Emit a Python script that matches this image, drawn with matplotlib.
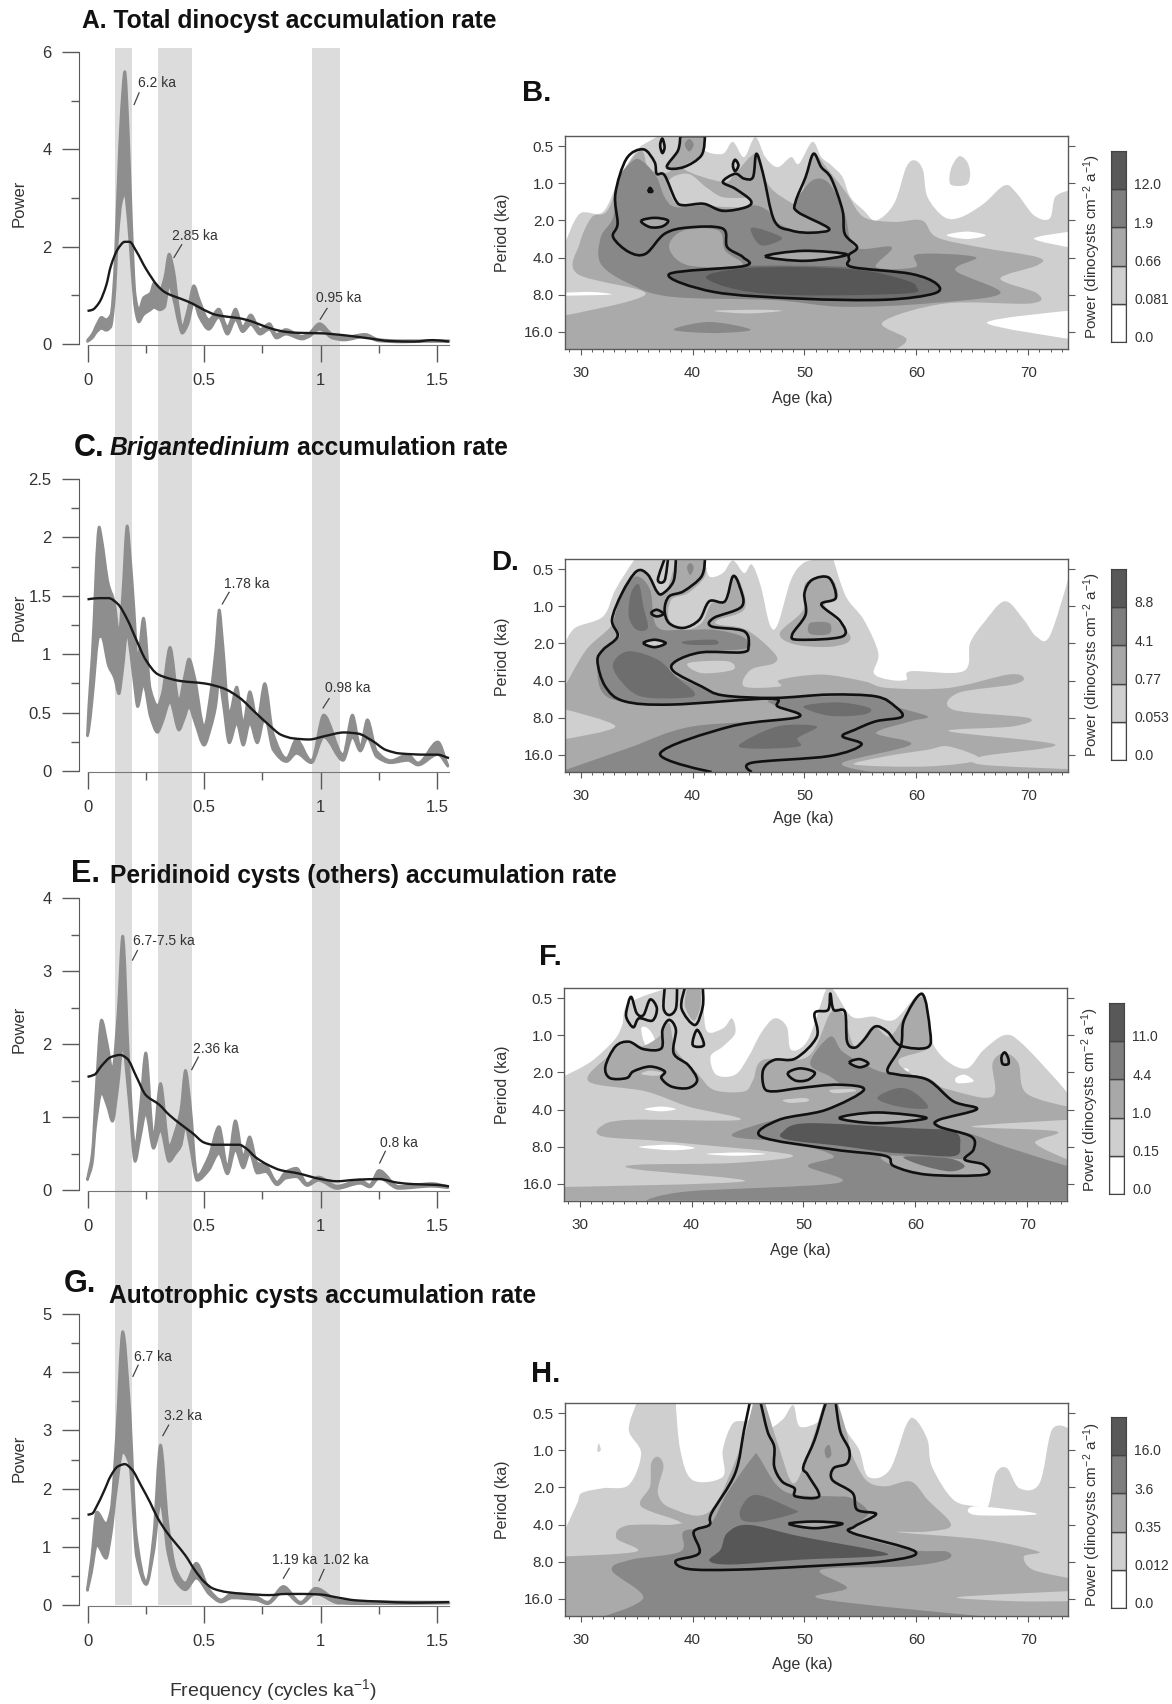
import matplotlib
matplotlib.use('Agg')
import matplotlib.pyplot as plt
from matplotlib.path import Path
from matplotlib.patches import PathPatch

plt.rcParams['font.family'] = ['Liberation Sans', 'DejaVu Sans']
plt.rcParams['mathtext.default'] = 'regular'
plt.rcParams['mathtext.fontset'] = 'custom'
plt.rcParams['mathtext.rm'] = 'Liberation Sans'

W, H = 1172, 1704
AXC = '#5a5a5a'
TXT = '#333333'

# grey frequency bands (cycles/ka)
bands = [(0.116, 0.189), (0.304, 0.446), (0.964, 1.084)]

# spectra: frequency, upper edge, lower edge of the grey ribbon, smoothed black line
A_f = [0, .02, .04, .06, .08, .1, .115, .13, .145, .16, .175, .19, .205, .22, .24, .27, .285, .31, .33, .35, .37, .39, .406, .43, .456, .48, .52, .563, .6, .635, .665, .7, .74, .78, .81, .85, .92, .95, .995, 1.05, 1.1, 1.19, 1.25, 1.35, 1.45, 1.55]
A_up = [.08, .2, .4, .55, .5, .6, 1.4, 3.2, 4.8, 5.6, 4.4, 2.4, 1.0, .7, .95, 1.05, 1.25, 1.1, 1.35, 1.85, 1.5, .75, .35, .7, 1.2, .9, .5, .72, .35, .72, .35, .6, .3, .42, .2, .3, .16, .22, .42, .2, .14, .2, .09, .07, .07, .07]
A_lo = [.05, .12, .25, .32, .28, .35, .9, 2.2, 2.9, 3.1, 2.5, 1.5, .7, .45, .6, .7, .75, .7, .75, 1.2, .9, .45, .22, .4, .85, .55, .3, .55, .2, .5, .25, .4, .2, .3, .12, .2, .1, .15, .3, .12, .08, .15, .06, .04, .05, .05]
A_line_f = [0, .02, .05, .08, .1, .13, .16, .18, .21, .25, .3, .33, .36, .4, .45, .5, .55, .6, .65, .7, .75, .8, .85, .9, 1.0, 1.1, 1.2, 1.3, 1.4, 1.48, 1.55]
A_line = [.68, .7, .85, 1.2, 1.6, 1.95, 2.1, 2.1, 1.9, 1.55, 1.2, 1.07, 1.0, .93, .83, .7, .6, .56, .53, .47, .38, .3, .25, .23, .22, .18, .12, .06, .05, .08, .05]

C_f = [0, .005, .02, .05, .06, .09, .115, .135, .15, .17, .185, .2, .215, .24, .27, .3, .32, .354, .392, .415, .435, .46, .5, .53, .55, .565, .58, .608, .64, .668, .696, .728, .76, .796, .853, .896, .96, 1.013, 1.096, 1.136, 1.17, 1.2, 1.24, 1.3, 1.374, 1.417, 1.502, 1.545]
C_up = [.34, .55, 1.0, 2.09, 2.0, 1.6, 1.45, 1.18, 1.5, 2.1, 1.8, 1.38, .95, 1.31, .7, .56, .66, 1.06, .6, .8, .96, .8, .38, .7, 1.05, 1.38, 1.1, .49, .72, .41, .68, .44, .75, .32, .11, .27, .09, .48, .14, .48, .21, .44, .17, .09, .14, .07, .25, .05]
C_lo = [.3, .34, .6, 1.15, 1.15, .9, .8, .66, .85, 1.18, 1.0, .75, .55, .74, .46, .33, .41, .59, .35, .45, .55, .42, .22, .38, .55, .78, .6, .24, .41, .22, .41, .24, .46, .18, .08, .15, .07, .29, .09, .29, .17, .28, .12, .07, .09, .05, .14, .04]
C_line_f = [0, .05, .09, .13, .17, .21, .25, .3, .354, .4, .5, .58, .65, .72, .78, .83, .88, .95, 1.02, 1.1, 1.16, 1.22, 1.28, 1.34, 1.45, 1.5, 1.55]
C_line = [1.47, 1.48, 1.48, 1.43, 1.3, 1.12, .95, .83, .79, .77, .75, .71, .63, .5, .39, .31, .28, .27, .3, .33, .32, .26, .18, .15, .14, .14, .11]

E_f = [0, .02, .036, .06, .085, .107, .13, .151, .178, .204, .225, .25, .283, .313, .35, .378, .4, .42, .44, .47, .52, .564, .6, .634, .668, .695, .728, .764, .813, .85, .896, .942, .99, 1.07, 1.17, 1.21, 1.25, 1.334, 1.477, 1.545]
E_up = [.16, .5, 1.35, 2.33, 2.0, 1.65, 2.4, 3.48, 1.7, .6, 1.1, 1.88, .73, 1.46, .6, .82, 1.1, 1.64, 1.2, .2, .46, .87, .32, .95, .46, .73, .37, .34, .11, .25, .3, .09, .18, .055, .14, .07, .27, .05, .09, .05]
E_lo = [.14, .35, .9, 1.33, 1.15, .94, 1.4, 1.97, 1.23, .39, .7, 1.05, .57, .82, .39, .5, .6, .87, .6, .13, .27, .5, .22, .55, .3, .5, .23, .25, .07, .16, .18, .06, .13, .02, .09, .04, .16, .02, .05, .03]
E_line_f = [0, .03, .06, .1, .14, .17, .21, .25, .307, .35, .4, .45, .5, .54, .65, .68, .72, .77, .83, .9, 1.0, 1.07, 1.15, 1.25, 1.33, 1.4, 1.5, 1.55]
E_line = [1.55, 1.58, 1.7, 1.82, 1.85, 1.8, 1.55, 1.3, 1.17, 1.03, .9, .78, .65, .62, .62, .57, .45, .35, .27, .23, .15, .12, .14, .15, .1, .08, .07, .05]

G_f = [0, .017, .04, .08, .1, .124, .151, .18, .21, .252, .283, .313, .345, .38, .42, .466, .523, .573, .62, .72, .772, .84, .914, .978, 1.078, 1.19, 1.55]
G_up = [.3, .8, 1.6, 1.4, 1.63, 2.9, 4.7, 3.46, 1.18, .4, 1.18, 2.75, 1.4, .6, .38, .72, .26, .09, .2, .15, .05, .32, .05, .29, .08, .06, .05]
G_lo = [.25, .55, 1.03, .8, 1.18, 1.98, 2.63, 2.43, .83, .35, .89, 1.75, .89, .4, .26, .46, .18, .05, .12, .09, .02, .23, .02, .19, .03, .02, .03]
G_line_f = [0, .02, .04, .07, .1, .13, .16, .19, .23, .27, .3, .34, .38, .42, .46, .5, .54, .6, .68, .78, .85, .92, 1.0, 1.07, 1.15, 1.25, 1.4, 1.55]
G_line = [1.55, 1.57, 1.7, 1.95, 2.22, 2.38, 2.42, 2.33, 2.05, 1.75, 1.5, 1.25, 1.05, .85, .6, .4, .28, .22, .19, .17, .19, .19, .18, .13, .08, .06, .04, .05]

# wavelet fills, (age ka, octaves above 0.5 ka period)
B_light = [(28.6,2.63),(29.9,1.82),(32,1.77),(33.5,.83),(35,.11),(36,-.12),(37,-.28),(41.1,-.28),(41.1,.11),(42.7,.2),(43.6,-.12),(44.6,.29),(45.6,-.25),(46.5,.29),(47.6,.56),(48.8,.29),(49.5,.47),(50.7,-.12),(51.5,.29),(52.4,.51),(53.4,.83),(54.1,1.37),(55.3,1.73),(56.4,2),(58,1.55),(59.1,.56),(59.9,.38),(60.6,.65),(61,1.37),(62.5,1.91),(64,1.91),(66,1.55),(67.9,1.05),(69,1.28),(70.5,1.86),(71.9,1.95),(72.4,1.37),(73.55,1.2),(73.55,2.31),(70.5,2.49),(73.55,2.72),(73.55,4.44),(66.3,4.76),(73.55,5.19),(73.55,5.47),(28.6,5.47)]
B_light2 = [(63,1.0),(63.1,.6),(63.8,.27),(64.5,.4),(64.8,.7),(64.6,1.0),(63.8,1.07)]
B_white = [[(28.6,3.95),(31,3.93),(32.7,4.0),(28.6,4.03)], [(62.7,2.4),(64.5,2.3),(66.2,2.4),(64.5,2.5)]]
B_mid = [(28.6,4.56),(35.8,3.99),(29.7,3.44),(29.9,2.63),(31,1.91),(32.4,1.73),(33.9,.65),(35.4,.11),(36,.56),(37.1,.74),(38.1,.65),(37.7,.56),(38.7,.11),(39.1,-.28),(41.1,-.28),(40.8,.24),(39.2,.6),(42.7,.96),(43.8,.74),(45.7,.2),(46.7,1.0),(48,1.37),(49.6,1.55),(50.1,.83),(50.8,.2),(52.4,.74),(53.8,1.28),(55.3,1.91),(58,2.04),(60.5,2),(61.8,2.45),(65.6,2.72),(70.8,2.99),(70.8,3.21),(67.5,3.57),(70.8,3.97),(70.2,4.24),(62.6,4.24),(57,4.74),(59.1,5.19),(58.2,5.47),(28.6,5.47)]
B_light3 = [[(37.9,.92),(39.6,.74),(41.2,1.1),(42.7,1.37),(45.2,1.41),(44.2,1.64),(39.2,1.55),(38.3,1.46)], [(41.9,4.44),(45.7,4.41),(48,4.44),(44.9,4.51)]]
B_dark = [(31.8,3.17),(31.8,2.45),(32.9,1.91),(33.3,.92),(34.7,.38),(35.6,.42),(36.8,.83),(37.5,1.37),(38.5,1.64),(41.2,1.59),(43.5,1.73),(45.4,1.59),(46.7,1.73),(47.7,2.09),(50.3,2.36),(52.3,2.25),(49.4,1.77),(49.2,1.5),(50.7,.92),(52.2,1.0),(53.6,1.82),(54.5,2.72),(57.8,2.72),(56.4,3.26),(59.9,3.26),(60.1,2.91),(65.3,2.99),(63.5,3.35),(67.5,3.97),(61,4.24),(53.4,4.33),(47.3,4.15),(38.1,4.06),(34.3,3.7)]
B_dark2 = [[(38.3,4.95),(41.5,4.74),(45.2,4.95),(41.9,5.04)], [(39.3,-.05),(39.7,-.2),(40.1,-.05),(39.7,.14)]]
B_mid2 = [[(37.9,2.72),(39.2,2.27),(42.3,2.27),(42.9,2.81),(44.4,3.21),(39.6,3.21)], [(54.9,2.4),(56.4,2.27),(58.2,2.4),(56.4,2.54)], [(46.5,2.97),(49.9,2.82),(53.8,2.92),(50.1,3.09)], [(35.4,2.01),(36.6,1.93),(37.8,2),(37.3,2.16),(36.2,2.18)]]
B_darker = [[(45.2,2.22),(46.5,2.27),(48,2.49),(46.1,2.67)], [(37.9,3.45),(44.6,3.23),(54.3,3.26),(59.5,3.44),(61.8,3.71),(61.6,3.97),(57.2,4.14),(49.6,4.11),(41.9,3.93)]]
B_darkest = [[(41.2,3.53),(44.2,3.3),(49.6,3.26),(55.3,3.35),(59.1,3.62),(60,3.8),(59.1,3.97),(49.6,4.02),(44.2,3.88)]]
B_loops = [[(32.9,2.45),(33.3,2.09),(33.1,1.28),(34.1,.33),(35.6,.08),(36.6,.42),(36.8,.74),(37.5,.78),(38.5,1.46),(39.2,1.59),(41,1.55),(42.7,1.74),(44.8,1.64),(45.2,1.46),(43.8,1.14),(42.7,.96),(43.8,.74),(44.6,.87),(45.4,.83),(45.7,.2),(46.3,.74),(47.3,2),(48.8,2.27),(50.7,2.33),(52.2,2.22),(49.4,1.77),(49.2,1.5),(50.1,.83),(50.8,.2),(51.5,.56),(52.4,.87),(53.4,1.73),(53.6,2.36),(54.7,2.72),(54,2.92),(54,3.05),(54.3,3.26),(59.5,3.44),(61.8,3.71),(61.6,3.97),(57.2,4.14),(49.6,4.11),(41.9,3.93),(37.9,3.45),(44.6,3.23),(44.5,2.99),(43.1,2.72),(42.7,2.22),(39.6,2.19),(37.5,2.36),(35.8,2.9),(34.3,2.85),(32.9,2.45)],
           [(46.5,2.97),(49.9,2.82),(53.8,2.92),(50.1,3.09),(46.5,2.97)],
           [(35.4,2.01),(36.6,1.93),(37.8,2),(37.3,2.16),(36.2,2.18),(35.4,2.01)],
           [(37.1,-.03),(37.3,-.21),(37.5,.02),(37.3,.18),(37.1,-.03)],
           [(37.7,.56),(38.7,.11),(38.9,-.28),(41.1,-.28),(40.8,.24),(39.2,.56),(37.7,.56)],
           [(43.6,.51),(43.8,.36),(44.1,.51),(43.8,.67),(43.6,.51)],
           [(36.05,1.22),(36.2,1.12),(36.4,1.22),(36.05,1.22)]]

D_light = [(28.6,2.0),(29.5,1.58),(32,1.27),(33.1,.55),(34.7,-.22),(35,-.28),(41.1,-.28),(41.5,.19),(42.7,.1),(43.6,-.24),(44.6,.1),(45.3,-.13),(46.1,.46),(46.9,1.49),(47.6,1.49),(48.8,.28),(49.9,-.17),(51.1,-.26),(52.6,-.26),(53.7,.73),(55.3,1.36),(56.6,2.26),(56.2,2.8),(57.6,2.98),(59.1,2.98),(59.5,2.75),(64.2,2.75),(64.8,1.99),(66,1.45),(67.9,.86),(69.6,1.36),(70.7,1.81),(71.9,1.81),(73.55,.28),(73.55,5.47),(28.6,5.47)]
D_mid = [(28.6,4.58),(33.1,4.24),(28.7,3.79),(28.6,3.16),(30.5,2.17),(32.9,1.45),(33.7,.55),(35.2,.01),(36.2,.19),(36.8,.64),(37.7,.55),(38.5,-.28),(41.1,-.28),(41.1,.19),(39.6,.64),(38.1,.82),(37.9,1.36),(39.2,1.63),(40.8,1.45),(41.7,.91),(43.1,.86),(43.6,.14),(44.4,.46),(44.6,1.09),(42.3,1.36),(42.3,1.49),(44.8,1.63),(47.3,2.26),(47.3,2.53),(45.2,2.71),(44.6,3.16),(47.8,3.16),(47.8,2.98),(51.5,2.84),(55.3,3.02),(57.4,3.2),(62.9,3.2),(68.2,2.84),(69.6,2.93),(68.6,3.11),(63.7,3.34),(63.3,3.79),(70,4.01),(68.6,4.24),(62.9,4.37),(72.4,4.73),(65.8,5.05),(65.8,5.27),(73.55,5.39),(73.55,5.47),(28.6,5.47)]
D_mid2 = [[(47.8,1.72),(49.9,1.09),(50.1,.37),(52.2,.19),(53,.73),(51.8,1),(54.1,1.81),(52.6,2.08),(49.2,2.03)]]
D_light3 = [[(39.6,2.53),(43.1,2.48),(43.6,2.71),(40.8,2.8)], [(54.5,5.27),(57.2,5.05),(61,4.87),(62.9,4.78),(65.6,5.13),(61,5.32)]]
D_dark = [(31.8,3.25),(31.5,2.48),(32,2.17),(33.5,1.81),(32.9,1.45),(33.9,.55),(35,.19),(36.2,.55),(36.8,1.54),(39.2,1.63),(41.9,1.63),(44.4,1.81),(45,2.12),(40.8,2.24),(38.5,2.48),(38.1,2.8),(40.8,3.2),(42.7,3.4),(45.7,3.47),(38.1,3.65),(33.5,3.56)]
D_dark2 = [[(28.6,5.42),(34.3,4.82),(40,4.24),(49.5,4.01),(46.9,3.52),(56.4,3.43),(58.1,3.7),(61,3.97),(59.5,4.1),(56.4,4.42),(59.5,4.73),(53.4,5.22),(56,5.47),(28.6,5.47)], [(50.5,1.45),(52.2,1.45),(52.2,1.74),(50.5,1.74)], [(39.5,-.05),(39.8,-.17),(40.1,-.05),(39.8,.15)]]
D_holes = [[(35.6,1.99),(36.6,1.9),(37.6,1.99),(36.6,2.1)]]
D_darker = [[(32.9,2.53),(34.3,2.21),(36.9,2.44),(38.5,2.89),(40.2,3.34),(39.2,3.47),(35.4,3.43),(33.5,2.98)], [(34.5,.64),(35.2,.41),(35.6,1),(36,1.58),(35,1.63),(34.3,1.27)], [(39.2,1.94),(41.9,1.9),(42.1,2.03),(39.6,2.03)], [(49.9,3.7),(53,3.59),(55.8,3.74),(55.3,3.92),(52.2,3.95)], [(44.2,4.73),(47.6,4.24),(51.1,4.24),(49.4,4.55),(49.5,4.78),(45.7,4.84)]]
D_loops = [[(38.5,-.28),(38.3,.32),(37.3,.66),(36.8,.59),(36,.14),(35,.05),(33.7,.64),(32.8,1.36),(33.3,1.81),(32,2.17),(31.5,2.48),(32.2,3.16),(33.9,3.56),(38.1,3.65),(46.9,3.49),(47.6,3.7),(49.5,3.98),(43.4,4.24),(37.1,4.97),(41.7,5.47)],
           [(45.3,5.47),(45.3,5.22),(52.2,5.04),(55.1,4.73),(53.4,4.51),(54.5,4.33),(56.4,4.1),(58.7,3.98),(58.1,3.7),(56.4,3.43),(52.2,3.38),(47.3,3.47),(42.7,3.4),(40.8,3.16),(38.3,2.75),(38.5,2.48),(40.8,2.24),(44.4,2.24),(45,2.08),(44.6,1.67),(41.7,1.54),(41.9,1.31),(44.4,1),(44.2,.46),(43.6,.19),(42.9,.86),(41.5,.86),(40.6,1.36),(39.2,1.58),(37.9,1.45),(37.5,1.09),(37.9,.73),(39.2,.59),(40.8,.19),(41.1,-.28)],
           [(37.5,-.28),(36.9,.28),(37.5,.3),(37.8,-.28)],
           [(35.6,1.99),(36.6,1.9),(37.6,1.99),(36.6,2.1),(35.6,1.99)],
           [(36.3,1.18),(36.8,1.09),(37.4,1.2),(36.8,1.27),(36.3,1.18)],
           [(48.9,1.76),(50.1,1.22),(50,.64),(50.7,.28),(52.2,.23),(52.8,.77),(51.5,.95),(53.2,1.4),(53.4,1.81),(49.5,1.9),(48.9,1.76)]]

F_light = [(28.65,2.09),(31,1.71),(33.1,1.12),(33.8,.72),(34.4,.13),(37.8,-.27),(41.1,-.27),(41.3,.85),(42.8,.81),(43.6,.54),(43.9,.94),(42.8,1.3),(41.7,1.57),(42.2,2.06),(43.9,2.06),(45.1,1.57),(46.2,.94),(47.4,.54),(48.5,.76),(48.9,1.39),(50.4,1.12),(52,-.22),(52.7,-.22),(54.3,.49),(56.2,.49),(58.1,.58),(60,-.04),(60.8,-.09),(61.3,1.03),(62.7,1.66),(64.6,1.89),(66.1,1.39),(68,.99),(69.5,1.21),(72.6,2.2),(73.6,2.56),(73.6,5.46),(28.65,5.46)]
F_white = [[(35.8,2.99),(37.3,2.92),(38.6,2.99),(37.3,3.05)], [(35.3,4.01),(38.2,3.95),(40.3,4.04),(38.2,4.1)], [(41.3,4.2),(44.3,4.16),(46.6,4.2),(43.9,4.25)], [(35.5,.81),(36.1,.81),(36.7,1.12),(35.9,1.26)], [(63.6,2.15),(64.4,2.06),(65.2,2.24),(63.8,2.29)], [(58.5,1.93),(59.2,1.89),(59.4,1.97),(58.7,1.99)]]
F_mid = [(30.8,2.24),(32.5,1.57),(34,1.21),(35.5,1.3),(37.1,1.03),(38,.67),(38.6,1.39),(40.5,2.02),(42,2.47),(44.7,2.51),(45.5,2.2),(46.4,1.66),(50.4,1.57),(52.4,.4),(53.5,.4),(54.6,1.3),(56.2,.76),(57.7,1.03),(59.2,.4),(60.6,-.04),(61.1,.49),(61.3,1.3),(58.5,1.66),(60,2.11),(63.1,2.47),(66.9,2.65),(66.9,1.75),(68,1.48),(69.2,1.75),(69.9,2.56),(73.6,2.92),(73.6,3.28),(65,3.46),(72.6,3.59),(70.7,3.9),(73.6,4.35),(73.6,5.46),(28.65,5.46),(28.65,5.09),(44.7,4.94),(35.2,4.62),(35.2,4.49),(43.9,4.44),(48.9,4.22),(37.5,3.86),(32.1,3.73),(31.9,3.46),(34.4,3.28),(44.3,3.28),(39.7,2.92),(35.9,2.51)]
F_mid0 = [[(39.6,-.27),(40.8,-.27),(40.8,.2),(40.2,.6),(39.4,.2)], [(60.6,-.04),(61.1,.49),(61.3,1.3),(59,1.3),(59.2,.4)]]
F_light3 = [[(35.5,2.04),(36.3,1.95),(37.5,2.02),(36.7,2.09)], [(48.2,2.74),(50.1,2.69),(50.4,2.78),(48.8,2.82)], [(52.4,2.47),(54.3,2.45),(54.6,2.51),(52.8,2.56)]]
F_dark = [(43.6,3.71),(47.4,3.28),(52,3.01),(55.4,2.47),(53.5,2.33),(52.4,2.11),(50.6,1.75),(52.4,1.03),(53.5,1.44),(55.8,1.84),(57.5,2.02),(61.1,2.15),(63.4,2.74),(65.5,2.99),(62.1,3.28),(62.7,3.5),(65.2,3.68),(68,4),(73.6,4.53),(73.6,5.46),(35.9,5.46),(39.7,5.21),(53.1,4.98),(50.4,4.53),(52.7,4.26),(48.9,3.9)]
F_mid2 = [[(53.2,3.23),(56.6,3.08),(61,3.23),(56.6,3.37)], [(48.6,2.02),(49.7,1.89),(51,2),(50.4,2.2),(49.3,2.22)], [(54.1,1.73),(55,1.64),(55.8,1.76),(55,1.86)], [(57.3,4.25),(64.4,4.35),(66.1,4.49),(66.1,4.76),(61.1,4.76),(58.1,4.53)]]
F_darker = [[(56.6,2.69),(58.5,2.42),(60,2.56),(61.1,2.96),(58.5,2.92)], [(59,4.27),(63,4.32),(64.4,4.53),(63.1,4.67),(60.5,4.5)]]
F_darkest = [[(48.2,3.59),(50.4,3.37),(59.2,3.5),(63.4,3.59),(64,3.99),(63.4,4.26),(59.6,4.2),(57.3,4.15),(53.5,3.99),(48.5,3.81)]]
F_loops = [[(32.3,1.84),(33.2,1.3),(34.4,1.17),(35.7,1.37),(37.3,1.35),(37.4,.85),(38,.58),(38.6,.85),(38.4,1.48),(39.7,1.8),(40.5,2.2),(39.7,2.42),(38.2,2.38),(37.3,2.15),(37.6,1.97),(36.3,1.84),(34.8,1.97),(34.2,2.15),(32.7,2.15),(32.3,1.84)],
           [(34.2,.31),(34.6,-.04),(35.1,.4),(35.7,.45),(36.3,.03),(36.9,.27),(36.5,.6),(35.3,.54),(34.8,.78),(34.2,.54),(34.2,.31)],
           [(37.6,-.27),(37.5,.27),(38,.45),(38.6,.27),(38.7,-.27)],
           [(39.4,-.27),(39.1,.27),(40.3,.72),(41,.22),(41,-.27)],
           [(40.1,1.26),(40.5,.85),(41.1,1.26),(40.1,1.26)],
           [(46.2,3.73),(47.8,3.28),(52,3.01),(55.4,2.47),(53.1,2.33),(49.7,2.42),(47.4,2.51),(46.5,2.42),(46.4,1.93),(47.4,1.66),(49.3,1.62),(51.2,1.03),(51,.4),(52.2,.31),(52.4,-.13),(52.7,.31),(53.7,.36),(53.9,1.17),(54.6,1.33),(55.4,1.12),(56.4,.76),(57.5,.9),(58.7,1.28),(61.1,1.32),(61.3,.85),(60.6,-.12),(59,.58),(58.7,1.28),(57.5,1.93),(58.5,2.06),(61.1,2.2),(63.4,2.78),(65.5,2.99),(62.1,3.28),(62.1,3.46),(65,3.73),(65.2,4.08),(64.4,4.35),(66.1,4.49),(66.2,4.76),(61.1,4.76),(58.1,4.53),(57.3,4.25),(52.7,4.08),(46.2,3.73)],
           [(53.2,3.23),(56.6,3.08),(61,3.23),(56.6,3.37),(53.2,3.23)],
           [(48.6,2.02),(49.7,1.89),(51,2),(50.4,2.2),(49.3,2.22),(48.6,2.02)],
           [(54.1,1.73),(55,1.64),(55.8,1.76),(55,1.86),(54.1,1.73)],
           [(67.7,1.57),(68,1.46),(68.3,1.62),(68.3,1.77),(67.8,1.77),(67.7,1.57)]]

H_light = [(28.6,3.14),(29.7,2.42),(30.1,2.15),(32,2.02),(34.3,1.93),(35.4,1.08),(34.3,.45),(35,-.27),(38.5,-.27),(38.9,.99),(40,1.8),(42.7,1.71),(42.7,.99),(43.6,.27),(45,.18),(45.7,-.27),(46.3,.45),(48,.18),(49,-.22),(49.6,.36),(51.5,.18),(52.2,-.27),(52.6,-.27),(53.8,.49),(54.9,.99),(55.7,1.71),(57.6,1.53),(59.1,.31),(59.9,.16),(61,.72),(61.4,1.44),(63.3,2.33),(65.4,2.51),(66.4,2.51),(67.1,1.62),(68.1,1.48),(69.2,2.02),(71,1.89),(72.1,.45),(73.55,.4),(73.55,5.48),(28.6,5.48)]
H_white = [[(65.2,2.51),(69.8,2.65),(70.4,2.74),(65.2,2.74)]]
H_mid = [(28.6,3.86),(35,3.73),(33.2,3.37),(34.1,3.03),(38.9,2.96),(35.4,2.51),(36.2,1.97),(36.3,1.35),(36.9,1.17),(37.4,1.44),(36.9,2.15),(38.1,2.56),(41.5,2.65),(44.2,.99),(45.4,-.27),(46.5,-.27),(47.7,.9),(49,1.89),(50.3,1.08),(51.7,-.27),(53,-.27),(53.8,.54),(54.2,1.08),(55.5,1.8),(57.2,1.97),(59.5,1.84),(61,2.33),(63.1,3.01),(61,3.19),(58.4,3.21),(66,3.41),(70.9,3.73),(69.6,3.86),(70.4,4.22),(73.55,4.44),(73.55,5.48),(28.6,5.48)]
H_light3 = [[(36.4,2.96),(37.7,2.92),(39.1,2.96),(37.7,3.01)], [(63.7,4.96),(73.55,4.8),(73.55,5.07),(68.7,5.07)], [(31.6,.81),(31.8,.99),(31.5,1.03)]]
H_dark = [(32,5.48),(35.6,4.98),(32.8,4.24),(34.5,3.95),(38.9,3.73),(39.2,3.19),(41.5,3.01),(43.1,2.15),(45.4,1.17),(45.9,1.17),(47.5,1.93),(49.2,2.2),(52.6,2.24),(54.2,2.29),(55.7,2.69),(54.3,3.23),(59.5,3.68),(62.7,3.73),(62.7,3.95),(59.1,4.13),(51.5,4.22),(53.8,4.71),(51.5,5.01),(66,5.48)]
H_dark2 = [[(51.8,.99),(52.2,.85),(52.4,1.12),(52,1.21)]]
H_mid2 = [[(48.6,2.98),(50.9,2.92),(53.4,2.98),(50.9,3.1)], [(56.3,2.44),(57,2.38),(57.8,2.47),(56.8,2.51)]]
H_darker = [[(44.4,2.51),(45.7,2.2),(48.8,2.56),(49.2,2.69),(46.1,2.92),(44.4,2.87)]]
H_darkest = [[(41.5,3.98),(42.5,3.68),(43.1,3.23),(45,3.01),(49.6,3.32),(56.8,3.73),(56.4,3.86),(49.6,3.95),(43.5,4.08)]]
H_loops = [[(45.1,-.27),(44.6,.45),(43.8,1.62),(41.7,2.69),(41.5,3.01),(40.1,3.2),(40.6,3.77),(38.5,3.98),(39.6,4.2),(43.8,4.22),(50.3,4.13),(57.2,3.99),(59.9,3.73),(54.3,3.23),(54.5,3.05),(56.4,2.72),(54.7,2.6),(54.3,2.15),(52.5,1.8),(52.6,1.48),(53.8,1.35),(54,.99),(53.2,.49),(52.8,-.27)],
           [(46.1,-.27),(46.7,.49),(47.3,.9),(47.3,1.44),(48,1.84),(49.1,2.02),(49.2,2.24),(51.3,2.24),(50.3,1.66),(49.9,1.44),(50.9,.72),(51.7,-.09),(51.9,-.27)],
           [(48.6,2.98),(50.9,2.92),(53.4,2.98),(50.9,3.1),(48.6,2.98)]]

period_pos = [0, 1, 2, 3, 4, 5]
period_labels = ['0.5', '1.0', '2.0', '4.0', '8.0', '16.0']
age_ticks = [30, 40, 50, 60, 70]

B_bar = ['0.0', '0.081', '0.66', '1.9', '12.0']
D_bar = ['0.0', '0.053', '0.77', '4.1', '8.8']
F_bar = ['0.0', '0.15', '1.0', '4.4', '11.0']
H_bar = ['0.0', '0.012', '0.35', '3.6', '16.0']

WHITE, LIGHT, MID, DARK, DARKER, DARKEST = '#ffffff', '#cfcfcf', '#aaaaaa', '#888888', '#6e6e6e', '#575757'
bar_colors = [WHITE, LIGHT, '#a8a8a8', '#7e7e7e', '#585858']

fig = plt.figure(figsize=(W / 100, H / 100), dpi=100, facecolor='white')


def px_axes(left, top, right, bottom, **kw):
    return fig.add_axes([left / W, 1 - bottom / H, (right - left) / W, (bottom - top) / H], **kw)


def ftext(x, y, s, **kw):
    kw.setdefault('ha', 'center')
    kw.setdefault('va', 'center')
    return fig.text(x / W, 1 - y / H, s, **kw)


def graph_segments(xs, ys):
    # rounded line through the read values, flat at each peak and trough
    n = len(xs)
    d = [(ys[i + 1] - ys[i]) / (xs[i + 1] - xs[i]) for i in range(n - 1)]
    m = [d[0]] + [0 if d[i - 1] * d[i] <= 0 else 2 * d[i - 1] * d[i] / (d[i - 1] + d[i]) for i in range(1, n - 1)] + [d[-1]]
    verts = []
    for i in range(n - 1):
        h = (xs[i + 1] - xs[i]) / 3
        verts += [(xs[i] + h, ys[i] + m[i] * h), (xs[i + 1] - h, ys[i + 1] - m[i + 1] * h), (xs[i + 1], ys[i + 1])]
    return verts


def graph_path(xs, ys):
    verts = [(xs[0], ys[0])] + graph_segments(xs, ys)
    return Path(verts, [Path.MOVETO] + [Path.CURVE4] * (len(verts) - 1))


def ribbon_path(xs, up, lo):
    v1 = [(xs[0], up[0])] + graph_segments(xs, up)
    v2 = [(xs[-1], lo[-1])] + graph_segments(xs[::-1], lo[::-1])
    verts = v1 + v2 + [(xs[0], up[0])]
    codes = [Path.MOVETO] + [Path.CURVE4] * (len(v1) - 1) + [Path.LINETO] + [Path.CURVE4] * (len(v2) - 1) + [Path.CLOSEPOLY]
    return Path(verts, codes)


def on_edge(p):
    return p[0] <= 28.75 or p[0] >= 73.5 or p[1] <= -.26 or p[1] >= 5.45


def loop_path(points, fill=False):
    # rounded contour through the read points; corners stay sharp on the frame
    closed = fill or points[0] == points[-1]
    pts = list(points[:-1]) if points[0] == points[-1] else list(points)
    n = len(pts)
    tan = []
    for i in range(n):
        if on_edge(pts[i]) or (not closed and i in (0, n - 1)):
            tan.append((0, 0))
            continue
        a, b = pts[(i - 1) % n], pts[(i + 1) % n]
        tan.append(((b[0] - a[0]) / 6, (b[1] - a[1]) / 6))
    verts = [pts[0]]
    for i in range(n if closed else n - 1):
        j = (i + 1) % n
        verts += [(pts[i][0] + tan[i][0], pts[i][1] + tan[i][1]), (pts[j][0] - tan[j][0], pts[j][1] - tan[j][1]), pts[j]]
    return Path(verts, [Path.MOVETO] + [Path.CURVE4] * (len(verts) - 1))


# bands run through the whole left column
bg = px_axes(87.5, 48, 449, 1605)
bg.set_xlim(0, 1.55)
bg.axis('off')
for b0, b1 in bands:
    bg.axvspan(b0, b1, color='#dcdcdc', lw=0)


def spectrum(top, bottom, ymax, f, up, lo, lf, ly, yt, ytl, ym, notes):
    ax = px_axes(87.5, top, 449, bottom)
    ax.patch.set_alpha(0)
    ax.set_xlim(0, 1.55)
    ax.set_ylim(0, ymax)
    ax.add_patch(PathPatch(ribbon_path(f, up, lo), fc='#8e8e8e', ec='#8e8e8e', lw=1.8, joinstyle='round', clip_on=False))
    ax.add_patch(PathPatch(graph_path(lf, ly), fc='none', ec='#1a1a1a', lw=1.7, joinstyle='round', clip_on=False, zorder=4))
    for s in ['top', 'right']:
        ax.spines[s].set_visible(False)
    ax.spines['left'].set_position(('outward', 6))
    ax.spines['left'].set_color(AXC)
    ax.spines['left'].set_bounds(0, ymax)
    ax.spines['bottom'].set_color('#777777')
    ax.spines['bottom'].set_position(('outward', 1))
    ax.set_yticks(yt)
    ax.set_yticklabels(ytl, fontsize=12, color=TXT)
    ax.set_yticks(ym, minor=True)
    ax.set_xticks([0, .5, 1, 1.5])
    ax.set_xticklabels(['0', '0.5', '1', '1.5'], fontsize=12, color=TXT)
    ax.set_xticks([.25, .75, 1.25], minor=True)
    ax.tick_params(axis='both', which='major', length=12, width=1, color=AXC, pad=8)
    ax.tick_params(axis='both', which='minor', length=6, width=1, color=AXC)
    for tx, ty, label, x0, y0, x1, y1 in notes:
        ax.text(tx, ty, label, fontsize=10, color=TXT, va='center', ha='left')
        ax.plot([x0, x1], [y0, y1], color='#444444', lw=.9)
    return ax


spectrum(52, 344, 6, A_f, A_up, A_lo, A_line_f, A_line, [0, 2, 4, 6], ['0', '2', '4', '6'], [1, 3, 5],
         [(.218, 5.36, '6.2 ka', .2, 4.92, .221, 5.16), (.361, 2.21, '2.85 ka', .371, 1.78, .404, 2.04),
          (.981, .94, '0.95 ka', .998, .51, 1.027, .73)])
spectrum(479, 771, 2.5, C_f, C_up, C_lo, C_line_f, C_line, [0, .5, 1, 1.5, 2, 2.5], ['0', '0.5', '1', '1.5', '2', '2.5'], [.25, .75, 1.25, 1.75, 2.25],
         [(.585, 1.6, '1.78 ka', .578, 1.43, .607, 1.53), (1.018, .71, '0.98 ka', 1.01, .54, 1.036, .62)])
spectrum(898, 1190, 4, E_f, E_up, E_lo, E_line_f, E_line, [0, 1, 2, 3, 4], ['0', '1', '2', '3', '4'], [.5, 1.5, 2.5, 3.5],
         [(.196, 3.41, '6.7-7.5 ka', .193, 3.15, .214, 3.28), (.452, 1.93, '2.36 ka', .447, 1.65, .475, 1.82),
          (1.256, .65, '0.8 ka', 1.253, .37, 1.277, .53)])
spectrum(1314, 1605, 5, G_f, G_up, G_lo, G_line_f, G_line, [0, 1, 2, 3, 4, 5], ['0', '1', '2', '3', '4', '5'], [.5, 1.5, 2.5, 3.5, 4.5],
         [(.198, 4.26, '6.7 ka', .195, 3.93, .217, 4.12), (.326, 3.25, '3.2 ka', .323, 2.91, .348, 3.09),
          (.789, .78, '1.19 ka', .84, .46, .865, .63), (1.011, .77, '1.02 ka', .993, .42, 1.014, .61)])


def wavelet(left, top, layers, loops):
    ax = px_axes(left, top, left + 503, top + 213)
    ax.set_xlim(28.6, 73.55)
    ax.set_ylim(5.47, -.28)
    z = 1
    for color, polys in layers:
        for poly in polys:
            ax.add_patch(PathPatch(loop_path(poly, fill=True), fc=color, ec='none', lw=0, zorder=z))
        z += 1
    for loop in loops:
        ax.add_patch(PathPatch(loop_path(loop), fc='none', ec='#111111', lw=1.9, zorder=20, joinstyle='round'))
    for s in ax.spines.values():
        s.set_color(AXC)
        s.set_linewidth(1)
        s.set_zorder(30)
    ax.set_yticks(period_pos)
    ax.set_yticklabels(period_labels, fontsize=11, color=TXT)
    ax.set_xticks(age_ticks)
    ax.set_xticklabels(age_ticks, fontsize=11, color=TXT)
    ax.set_xticks(range(29, 74), minor=True)
    ax.tick_params(axis='x', which='major', length=4, width=.8, color=AXC, pad=8)
    ax.tick_params(axis='x', which='minor', length=2.5, width=.7, color=AXC)
    ax.tick_params(axis='y', which='major', length=5, width=.8, color=AXC, pad=3, right=True)
    return ax


def colorbar(left, top, labels):
    ax = px_axes(left, top, left + 15, top + 191)
    for i, c in enumerate(bar_colors):
        ax.bar(0, 1, bottom=i, width=1, color=c, edgecolor='#444444', lw=1)
    ax.set_xlim(-.5, .5)
    ax.set_ylim(0, 5)
    ax.set_xticks([])
    ax.yaxis.tick_right()
    ax.set_yticks([i + .14 for i in range(5)])
    ax.set_yticklabels(labels, fontsize=10, color=TXT)
    ax.tick_params(axis='y', length=0, pad=6)
    for s in ax.spines.values():
        s.set_color('#444444')


wavelet(565, 136,
        [(LIGHT, [B_light, B_light2]), (WHITE, B_white), (MID, [B_mid]), (LIGHT, B_light3), (DARK, [B_dark] + B_dark2),
         (MID, B_mid2), (DARKER, B_darker), (DARKEST, B_darkest)], B_loops)
wavelet(565, 559,
        [(LIGHT, [D_light]), (MID, [D_mid] + D_mid2), (LIGHT, D_light3), (DARK, [D_dark] + D_dark2),
         (LIGHT, D_holes), (DARKER, D_darker)], D_loops)
wavelet(564, 988,
        [(LIGHT, [F_light]), (WHITE, F_white), (MID, [F_mid] + F_mid0), (LIGHT, F_light3), (DARK, [F_dark]),
         (MID, F_mid2), (DARKER, F_darker), (DARKEST, F_darkest)], F_loops)
wavelet(565, 1403,
        [(LIGHT, [H_light]), (WHITE, H_white), (MID, [H_mid]), (LIGHT, H_light3), (DARK, [H_dark] + H_dark2),
         (MID, H_mid2), (DARKER, H_darker), (DARKEST, H_darkest)], H_loops)

colorbar(1111, 151, B_bar)
colorbar(1111, 569, D_bar)
colorbar(1109, 1003, F_bar)
colorbar(1111, 1417, H_bar)

# axis labels
for y in [203, 617, 1029, 1458]:
    ftext(19, y, 'Power', rotation=90, fontsize=12, color=TXT)
for y in [233, 657, 1085, 1500]:
    ftext(502, y, 'Period (ka)', rotation=90, fontsize=11.5, color=TXT)
for x, y in [(802, 398), (803, 818), (800, 1250), (802, 1664)]:
    ftext(x, y, 'Age (ka)', fontsize=11.5, color=TXT)
for x, y in [(1092, 247), (1092, 665), (1090, 1100), (1092, 1515)]:
    ftext(x, y, 'Power (dinocysts cm$^{-2}$ a$^{-1}$)', rotation=90, fontsize=11, color=TXT)
ftext(273, 1690, 'Frequency (cycles ka$^{-1}$)', fontsize=14, color=TXT)

# titles
ftext(82, 21, 'A. Total dinocyst accumulation rate', ha='left', fontsize=17.7, fontweight='bold', color='#111111')
ftext(74, 448, 'C.', ha='left', fontsize=22, fontweight='bold', color='#111111')
ftext(110, 448, 'Brigantedinium', ha='left', fontsize=17.7, fontweight='bold', fontstyle='italic', color='#111111')
ftext(297, 448, 'accumulation rate', ha='left', fontsize=17.7, fontweight='bold', color='#111111')
ftext(71, 874, 'E.', ha='left', fontsize=22, fontweight='bold', color='#111111')
ftext(110, 876, 'Peridinoid cysts (others) accumulation rate', ha='left', fontsize=17.7, fontweight='bold', color='#111111')
ftext(64, 1284, 'G.', ha='left', fontsize=22, fontweight='bold', color='#111111')
ftext(109, 1296, 'Autotrophic cysts accumulation rate', ha='left', fontsize=17.7, fontweight='bold', color='#111111')
ftext(522, 93, 'B.', ha='left', fontsize=21, fontweight='bold', color='#111111')
ftext(491, 563, 'D.', ha='left', fontsize=20, fontweight='bold', color='#111111')
ftext(539, 957, 'F.', ha='left', fontsize=21, fontweight='bold', color='#111111')
ftext(531, 1374, 'H.', ha='left', fontsize=21, fontweight='bold', color='#111111')

fig.savefig('out.png', dpi=100)
